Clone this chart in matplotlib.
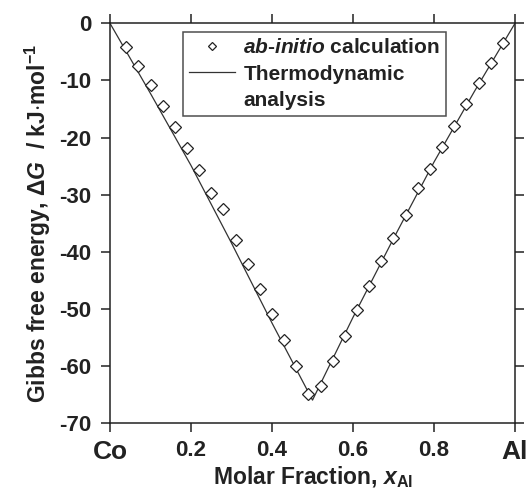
import matplotlib
matplotlib.use("Agg")
import matplotlib.pyplot as plt
from matplotlib.lines import Line2D

plt.rcParams['font.family'] = ['Liberation Sans', 'DejaVu Sans']
plt.rcParams['font.weight'] = 'bold'
plt.rcParams['axes.labelweight'] = 'bold'
plt.rcParams['axes.unicode_minus'] = False
plt.rcParams['mathtext.fontset'] = 'custom'
plt.rcParams['mathtext.rm'] = 'Liberation Sans:bold'
plt.rcParams['mathtext.it'] = 'Liberation Sans:bold:italic'
plt.rcParams['mathtext.bf'] = 'Liberation Sans:bold'

# ab-initio points
x_calc = [0.04, 0.07, 0.10, 0.13, 0.16, 0.19, 0.22, 0.25, 0.28, 0.31,
          0.34, 0.37, 0.40, 0.43, 0.46, 0.49, 0.52, 0.55, 0.58, 0.61,
          0.64, 0.67, 0.70, 0.73, 0.76, 0.79, 0.82, 0.85, 0.88, 0.91,
          0.94, 0.97]
g_calc = [-4.1, -7.4, -10.8, -14.4, -18.1, -21.8, -25.7, -29.7, -32.6, -37.9,
          -42.2, -46.5, -50.9, -55.4, -60.1, -65.0, -63.6, -59.1, -54.7, -50.3,
          -46.0, -41.7, -37.6, -33.5, -28.8, -25.5, -21.7, -17.9, -14.2, -10.5,
          -6.9, -3.4]

# thermodynamic analysis line
x_fit = [0.0, 0.1, 0.2, 0.3, 0.4, 0.5, 0.6, 0.7, 0.8, 0.9, 1.0]
g_fit = [0.0, -12.3, -24.9, -38.5, -52.5, -66.0, -51.5, -37.7, -24.3, -11.9, 0.0]

xticks = [0, 0.2, 0.4, 0.6, 0.8, 1.0]
xticklabels = ['Co', '0.2', '0.4', '0.6', '0.8', 'Al']
yticks = [0, -10, -20, -30, -40, -50, -60, -70]

ink = '#222222'

fig = plt.figure(figsize=(5.29, 4.97), dpi=100)
ax = fig.add_axes([0.208, 0.149, 0.7655, 0.804])

ax.plot(x_fit, g_fit, color='#333333', lw=0.9, zorder=2)
ax.plot(x_calc, g_calc, linestyle='none', marker='D', ms=6,
        mfc='white', mec=ink, mew=0.9, zorder=3)

ax.set_xlim(0, 1)
ax.set_ylim(-70, 0)
ax.set_xticks(xticks)
ax.set_xticklabels(xticklabels)
ax.set_yticks(yticks)
ax.tick_params(direction='out', length=6.5, width=1.1, colors=ink,
               labelsize=16, top=True, right=True)
ax.tick_params(axis='x', pad=6)
ax.tick_params(axis='y', pad=7)
for lab in ax.get_xticklabels():
    if lab.get_text() in ('Co', 'Al'):
        lab.set_fontsize(19)
for s in ax.spines.values():
    s.set_linewidth(1.1)
    s.set_color(ink)

ax.set_xlabel('Molar Fraction, $x_{\\mathrm{Al}}$', fontsize=16.5, color=ink,
              labelpad=0)
ax.set_ylabel('Gibbs free energy, $\\Delta G$  / kJ$\\cdot$mol$^{-1}$',
              fontsize=16.5, color=ink, labelpad=4)

handles = [
    Line2D([], [], linestyle='none', marker='D', ms=4.5, mfc='white',
           mec=ink, mew=0.9),
    Line2D([], [], color='#333333', lw=0.9),
    Line2D([], [], linestyle='none'),
]
labels = ['$\\mathit{ab}$-$\\mathit{initio}$ calculation', 'Thermodynamic',
          'analysis']
leg = ax.legend(handles, labels, loc='upper left', bbox_to_anchor=(0.18, 0.978),
                borderaxespad=0, fontsize=15, frameon=True, fancybox=False,
                handlelength=2.2, handletextpad=0.4, labelspacing=0.35,
                borderpad=0.3)
leg.get_frame().set_edgecolor(ink)
leg.get_frame().set_linewidth(1.1)
for t in leg.get_texts():
    t.set_color(ink)

fig.savefig('out.png', dpi=100)
